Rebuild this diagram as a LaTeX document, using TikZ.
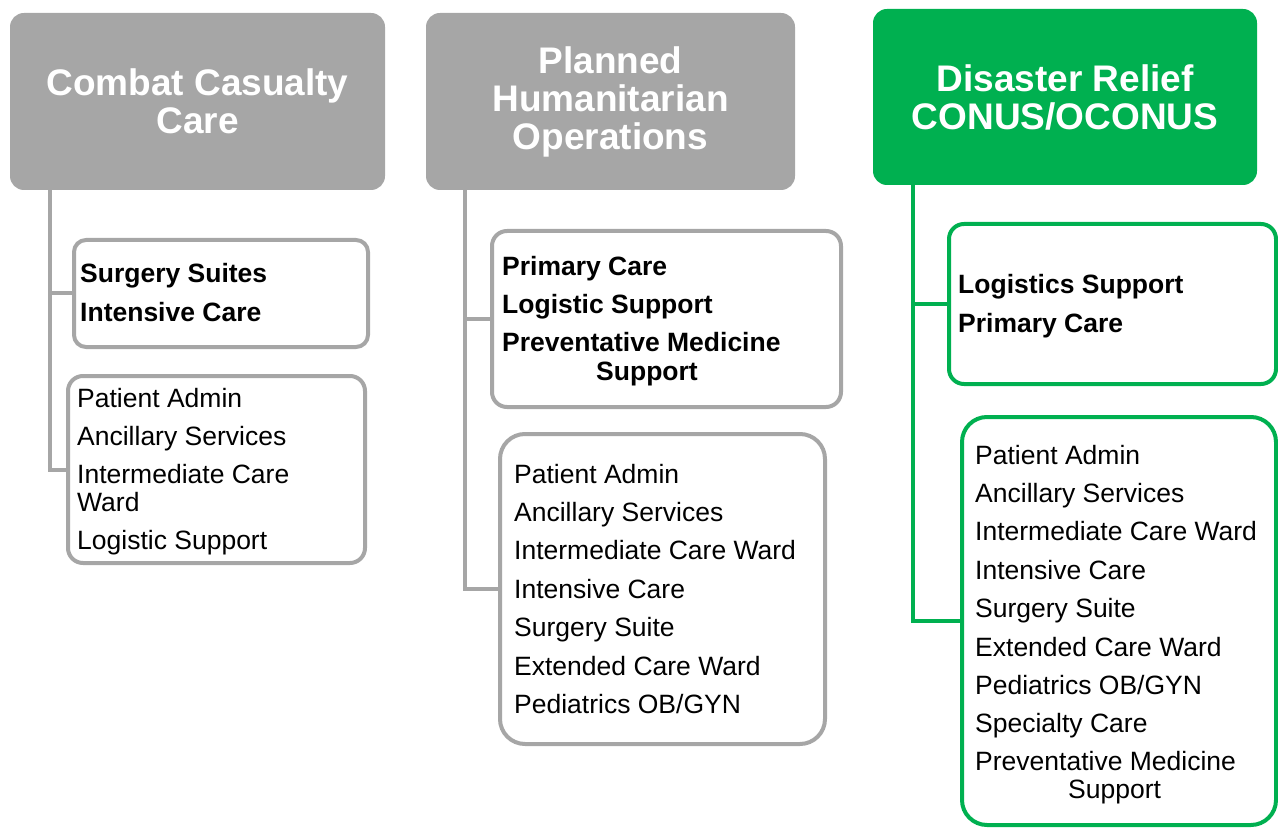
\documentclass[tikz,border=0pt]{standalone}
\usepackage{fontspec}
\setmainfont{Liberation Sans}
\definecolor{hgray}{HTML}{A6A6A6}
\definecolor{hgreen}{HTML}{00B050}
\begin{document}
\begin{tikzpicture}[x=1pt,y=-1pt,
  head/.style={rounded corners=14pt, inner sep=0pt, outer sep=0pt, text=white,
    font=\fontsize{37}{38}\selectfont\bfseries, align=center, anchor=north west},
  box/.style={draw, line width=4pt, fill=white, inner sep=0pt, outer sep=0pt, anchor=north west},
  link/.style={line width=4pt},
  item/.style={anchor=base west, inner sep=0pt, font=\fontsize{26.5}{30}\selectfont},
  bitem/.style={anchor=base west, inner sep=0pt, font=\fontsize{26.5}{30}\selectfont\bfseries}]
\useasboundingbox (0,0) rectangle (1278,829);

% headers
\node[head, fill=hgray, minimum width=375pt, minimum height=177pt] (h1) at (10,13) {Combat Casualty\\Care};
\node[head, fill=hgray, minimum width=369pt, minimum height=177pt] (h2) at (426,13) {Planned\\Humanitarian\\Operations};
\node[head, fill=hgreen, minimum width=384pt, minimum height=176pt] (h3) at (873,9) {Disaster Relief\\CONUS/OCONUS};

% boxes
\node[box, draw=hgray, rounded corners=12pt, minimum width=294pt, minimum height=107pt] (b11) at (74,240) {};
\node[box, draw=hgray, rounded corners=15pt, minimum width=297pt, minimum height=187pt] (b12) at (68,376) {};
\node[box, draw=hgray, rounded corners=15pt, minimum width=349pt, minimum height=176pt] (b21) at (492,231) {};
\node[box, draw=hgray, rounded corners=25pt, minimum width=325pt, minimum height=310pt] (b22) at (500,434) {};
\node[box, draw=hgreen, rounded corners=15pt, minimum width=327pt, minimum height=160pt] (b31) at (949,224) {};
\node[box, draw=hgreen, rounded corners=25pt, minimum width=314pt, minimum height=408pt] (b32) at (962,417) {};

% connectors
\path (h1.south west) ++(40,0) coordinate (v1);
\path (h2.south west) ++(39,0) coordinate (v2);
\path (h3.south west) ++(40,0) coordinate (v3);
\draw[link, hgray] (v1) |- (b12.west);
\draw[link, hgray] (v1 |- b11.west) -- (b11.west);
\draw[link, hgray] (v2) |- (b22.west);
\draw[link, hgray] (v2 |- b21.west) -- (b21.west);
\draw[link, hgreen] (v3) |- (b32.west);
\draw[link, hgreen] (v3 |- b31.west) -- (b31.west);

% texts column 1
\foreach \t/\y [count=\i] in {Surgery Suites/283, Intensive Care/321}
  \node[bitem] (t11\i) at (80,\y) {\t};
\foreach \t/\y [count=\i] in {Patient Admin/407, Ancillary Services/445, Intermediate Care/483, Ward/511, Logistic Support/549}
  \node[item] (t12\i) at (77,\y) {\t};

% texts column 2
\foreach \t/\y [count=\i] in {Primary Care/276, Logistic Support/314, Preventative Medicine/352}
  \node[bitem] (t21\i) at (502,\y) {\t};
\node[bitem] (t21s) at (596,380) {Support};
\foreach \t/\y [count=\i] in {Patient Admin/483, Ancillary Services/521, Intermediate Care Ward/559, Intensive Care/598, Surgery Suite/636, Extended Care Ward/675, {Pediatrics OB/GYN}/713}
  \node[item] (t22\i) at (514,\y) {\t};

% texts column 3
\foreach \t/\y [count=\i] in {Logistics Support/294, Primary Care/332}
  \node[bitem] (t31\i) at (958,\y) {\t};
\foreach \t/\y [count=\i] in {Patient Admin/464, Ancillary Services/502, Intermediate Care Ward/540, Intensive Care/579, Surgery Suite/617, Extended Care Ward/656, {Pediatrics OB/GYN}/694, Specialty Care/732, Preventative Medicine/770}
  \node[item] (t32\i) at (975,\y) {\t};
\node[item] (t32s) at (1068,798) {Support};
\end{tikzpicture}
\end{document}
